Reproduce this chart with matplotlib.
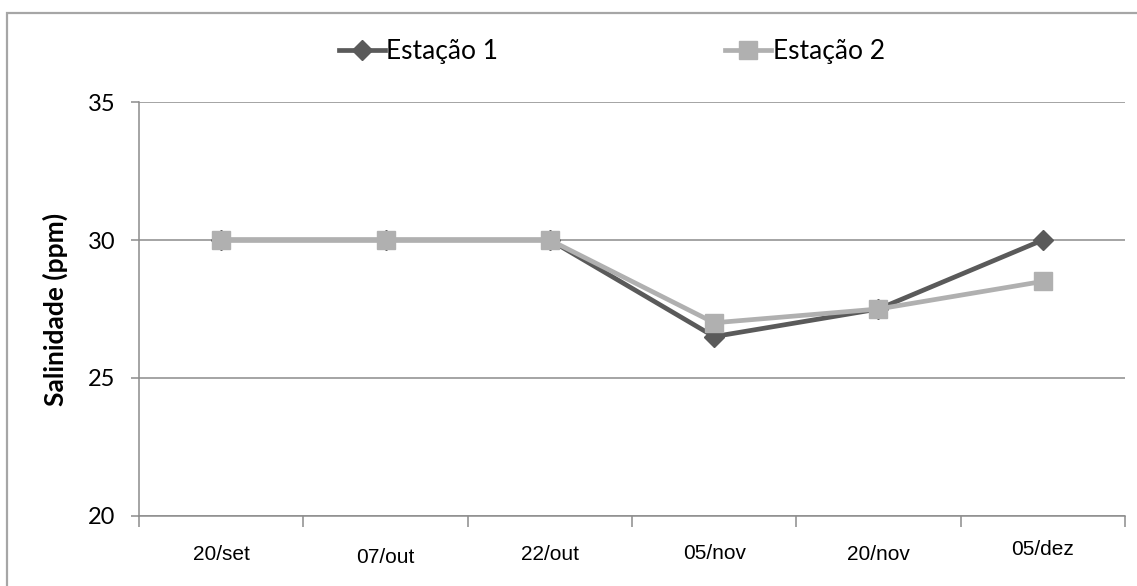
import matplotlib
matplotlib.use('Agg')
import matplotlib.pyplot as plt  # noqa: E402
from matplotlib.patches import Rectangle  # noqa: E402
from matplotlib.transforms import ScaledTranslation  # noqa: E402

# sampling dates and salinity readings
datas = ['20/set', '07/out', '22/out', '05/nov', '20/nov', '05/dez']
estacao_1 = [30, 30, 30, 26.5, 27.5, 30]
estacao_2 = [30, 30, 30, 27, 27.5, 28.5]
y_ticks = [20, 25, 30, 35]

COR_1 = '#5a5a5a'
COR_2 = '#b0b0b0'
COR_EIXO = '#8c8c8c'
FONTE = ['Lato', 'DejaVu Sans']
FONTE_X = ['Liberation Sans Narrow', 'Liberation Sans', 'DejaVu Sans']

fig = plt.figure(figsize=(11.37, 5.86), dpi=100)
fig.patch.set_facecolor('white')

# outer chart frame
fig.patches.append(Rectangle((7 / 1137, -0.1), 1.2, 1 - 13 / 586 + 0.1,
                             transform=fig.transFigure, fill=False,
                             edgecolor='#a6a6a6', linewidth=1.6))

ax = fig.add_axes([139 / 1137, 1 - 516 / 586, (1125 - 139) / 1137, (516 - 102) / 586])

x = list(range(len(datas)))
ax.plot(x, estacao_1, color=COR_1, linewidth=3.4, marker='D', markersize=10,
        label='Estação 1', zorder=3)
ax.plot(x, estacao_2, color=COR_2, linewidth=3.4, marker='s', markersize=12.5,
        label='Estação 2', zorder=4)

ax.set_xlim(-0.5, len(datas) - 0.5)
ax.set_ylim(20, 35)
ax.set_yticks(y_ticks)
ax.set_yticklabels([str(v) for v in y_ticks], fontsize=17, family=FONTE)
ax.yaxis.grid(True, color=COR_EIXO, linewidth=1.1)
ax.set_axisbelow(True)

# category ticks sit between dates, labels centred under each date
ax.set_xticks([i - 0.5 for i in range(len(datas) + 1)])
ax.set_xticklabels([])
ax.set_xticks(x, minor=True)
ax.set_xticklabels(datas, minor=True, fontsize=15, family=FONTE_X)
ax.tick_params(axis='x', which='minor', length=0, pad=21)
ax.tick_params(axis='x', which='major', length=8, color=COR_EIXO, width=1.1)
ax.tick_params(axis='y', length=6, color=COR_EIXO, width=1.1, pad=11)

deslocamentos = [0, -3, 0, 1, 0, 5]
for rotulo, dy in zip(ax.get_xticklabels(minor=True), deslocamentos):
    rotulo.set_transform(rotulo.get_transform() +
                         ScaledTranslation(0, dy / 100, fig.dpi_scale_trans))

for lado in ['top', 'right']:
    ax.spines[lado].set_visible(False)
for lado in ['left', 'bottom']:
    ax.spines[lado].set_color(COR_EIXO)
    ax.spines[lado].set_linewidth(1.1)

ax.set_ylabel('Salinidade (ppm)', fontsize=19, fontweight='bold', family=FONTE,
              labelpad=14)

fig.legend(loc='center', bbox_to_anchor=(0.538, 1 - 52 / 586), ncol=2,
           frameon=False, prop={'family': FONTE, 'size': 19},
           handlelength=1.75, handletextpad=0.05, columnspacing=8.6)

plt.savefig('out.png', dpi=100)
plt.close()
